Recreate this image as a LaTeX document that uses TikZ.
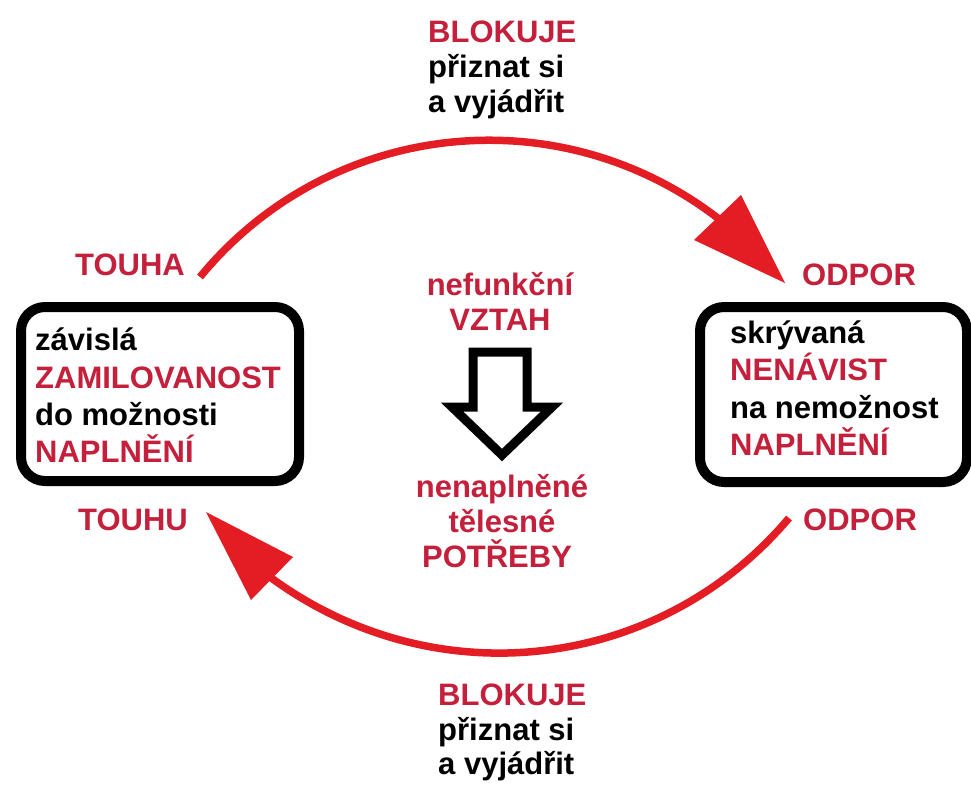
\documentclass[tikz,border=0pt]{standalone}
\usepackage{fontspec}
\setmainfont{Liberation Sans}
\definecolor{arrowred}{RGB}{228,28,36}
\definecolor{textred}{RGB}{196,32,60}
\begin{document}
\begin{tikzpicture}[x=1pt,y=-1pt,
  lbl/.style={font=\bfseries\fontsize{31}{37}\selectfont, inner sep=0pt, anchor=base west, text=black},
  rlbl/.style={lbl, text=textred},
  clbl/.style={font=\bfseries\fontsize{31}{37}\selectfont, inner sep=0pt, anchor=base, text=textred},
  boxnode/.style={draw=black, line width=10pt, rounded corners=24pt, inner sep=0pt},
  arcline/.style={draw=arrowred, line width=7.5pt},
  headfill/.style={fill=arrowred},
  blockarrow/.style={draw=black, line width=9pt, line join=miter, fill=white}
]
\useasboundingbox (0,0) rectangle (971,785);
\fill[white] (0,0) rectangle (971,785);

% boxes
\node[boxnode, minimum width=278pt, minimum height=174pt] (lbox) at (160,394) {};
\node[boxnode, minimum width=267pt, minimum height=175pt] (rbox) at (833.5,394.5) {};

% top block text
\node[rlbl] (tb1) at (428,42) {BLOKUJE};
\node[lbl] (tb2) at (428,77) {přiznat si};
\node[lbl] (tb3) at (428,112) {a vyjádřit};

% bottom block text
\node[rlbl] (bb1) at (438,705) {BLOKUJE};
\node[lbl] (bb2) at (438,740) {přiznat si};
\node[lbl] (bb3) at (438,774) {a vyjádřit};

% side labels
\node[rlbl] (touha) at (75,275) {TOUHA};
\node[rlbl] (odpor1) at (802,285) {ODPOR};
\node[rlbl] (touhu) at (78,530) {TOUHU};
\node[rlbl] (odpor2) at (803,530) {ODPOR};

% left box text
\node[lbl] (l1) at (35,350) {závislá};
\node[rlbl] (l2) at (35,388) {ZAMILOVANOST};
\node[lbl] (l3) at (35,425) {do možnosti};
\node[rlbl] (l4) at (35,462) {NAPLNĚNÍ};

% right box text
\node[lbl] (r1) at (730,343) {skrývaná};
\node[rlbl] (r2) at (730,380) {NENÁVIST};
\node[lbl] (r3) at (730,418) {na nemožnost};
\node[rlbl] (r4) at (730,455) {NAPLNĚNÍ};

% centre text
\node[clbl] (c1) at (500,295) {nefunkční};
\node[clbl] (c2) at (500,330) {VZTAH};
\node[clbl] (c3) at (502,497) {nenaplněné};
\node[clbl] (c4) at (502,532) {tělesné};
\node[clbl] (c5) at (497,567) {POTŘEBY};

% block arrow
\draw[blockarrow] (473,352) -- (527,352) -- (527,407) -- (552,407) -- (502,455) -- (452,407) -- (473,407) -- cycle;

% top arc with head
\coordinate (ta0) at (200,277);
\coordinate (ta1) at (719,219);
\coordinate (th1) at (694,240);
\coordinate (th2) at (741,195);
\coordinate (tht) at (785,283);
\draw[arcline] (ta0) .. controls (328,121) and (557,94) .. (ta1);
\fill[headfill] (th1) -- (th2) -- (tht) -- cycle;

% bottom arc with head
\coordinate (ba0) at (789,518);
\coordinate (ba1) at (270,577);
\coordinate (bh1) at (251,600);
\coordinate (bh2) at (293,557);
\coordinate (bht) at (206,512);
\draw[arcline] (ba0) .. controls (659,672) and (434,698) .. (ba1);
\fill[headfill] (bh1) -- (bh2) -- (bht) -- cycle;
\end{tikzpicture}
\end{document}
